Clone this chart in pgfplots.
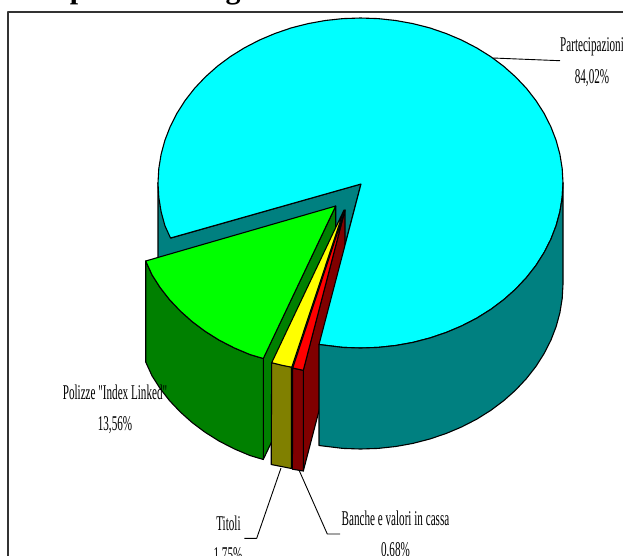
\documentclass[border=0pt]{standalone}
\usepackage{pgfplots}
\pgfplotsset{compat=1.18}
\usepackage{fontspec}
\setmainfont{Liberation Serif}
\newfontfamily\labelfont[FakeStretch=0.53]{Liberation Serif}
\definecolor{pcyan}{HTML}{00FFFF}
\definecolor{pteal}{HTML}{008080}
\definecolor{plime}{HTML}{00FF00}
\definecolor{pgreen}{HTML}{008000}
\definecolor{pyellow}{HTML}{FFFF00}
\definecolor{polive}{HTML}{808000}
\definecolor{pred}{HTML}{FF0000}
\definecolor{pmaroon}{HTML}{800000}
\definecolor{pframe}{HTML}{333333}
\newcommand{\lab}[1]{{\labelfont\fontsize{21}{22}\selectfont #1}}
\begin{document}
\begin{tikzpicture}[x=1pt,y=1pt]
\path[use as bounding box,clip] (0,0) rectangle (623,555);
\begin{axis}[
  at={(0,0)},anchor=south west,
  scale only axis,width=623pt,height=555pt,
  xmin=0,xmax=623,ymin=0,ymax=555,
  y dir=reverse,hide axis,clip=false,
  every axis plot/.append style={no markers,line join=round,line width=1.1pt},
]
% outer frame of the chart area
\addplot[draw=pframe,line width=1.9pt] coordinates {(8,600) (8,12) (660,12)};
\node[anchor=base west,inner sep=0pt] at (axis cs:8,-2)
  {\fontsize{30}{30}\selectfont\bfseries Composizione degli investimenti};

% inner wall of the large sector and the short piece of its rim on the left
\addplot[fill=pteal,draw=black] coordinates {(361,184) (171,238) (158,183) (158,262) (175,262) (338,262) (319,344)} --cycle;
% cut walls of the detached sectors
\addplot[fill=pgreen,draw=black] coordinates {(335.7,206) (335.7,307) (263.3,459.4) (263.3,358)} --cycle;
\addplot[fill=pmaroon,draw=black] coordinates {(345,210) (303.3,370) (303.3,471) (345,311)} --cycle;

% Partecipazioni: top face
\addplot[fill=pcyan,draw=black] coordinates {
  (361,184) (170.5,238) (164.9,225.7) (161.1,211.7) (158.8,197.4) (158,183)
  (158.8,168.6) (161.1,154.3) (164.9,140.3) (170.2,126.6) (177,113.2) (185.1,100.5)
  (194.6,88.3) (205.4,76.9) (217.3,66.3) (230.3,56.6) (244.3,47.9) (259.3,40.1)
  (274.9,33.5) (291.2,27.9) (308.1,23.6) (325.3,20.5) (342.9,18.6) (360.5,18)
  (378.1,18.6) (395.7,20.5) (412.9,23.6) (429.8,27.9) (446.1,33.5) (461.7,40.1)
  (476.7,47.9) (490.7,56.6) (503.7,66.3) (515.6,76.9) (526.4,88.3) (535.9,100.5)
  (544,113.2) (550.8,126.6) (556.1,140.3) (559.9,154.3) (562.2,168.6) (563,183)
  (562.2,197.4) (559.9,211.7) (556.1,225.7) (550.8,239.4) (544,252.7) (535.9,265.5)
  (526.4,277.6) (515.6,289.1) (503.7,299.7) (490.7,309.4) (476.7,318.2) (461.7,325.9)
  (446.1,332.5) (429.8,338) (412.9,342.4) (395.7,345.5) (378.1,347.4) (360.5,348)
  (342.9,347.4) (319,344.5)} --cycle;
% Partecipazioni: rim
\addplot[fill=pteal,draw=black] coordinates {
  (563,183) (562.2,197.4) (559.9,211.7) (556.1,225.7) (550.8,239.4) (544,252.7) (535.9,265.5)
  (526.4,277.6) (515.6,289.1) (503.7,299.7) (490.7,309.4) (476.7,318.2) (461.7,325.9)
  (446.1,332.5) (429.8,338) (412.9,342.4) (395.7,345.5) (378.1,347.4) (360.5,348)
  (342.9,347.4) (319,344.5)
  (319,445.5) (342.9,448.4) (360.5,449) (378.1,448.4) (395.7,446.5) (412.9,443.4)
  (429.8,439) (446.1,433.5) (461.7,426.9) (476.7,419.2) (490.7,410.4) (503.7,400.7)
  (515.6,390.1) (526.4,378.6) (535.9,366.5) (544,353.7) (550.8,340.4) (556.1,326.7)
  (559.9,312.7) (562.2,298.4) (563,284)} --cycle;

% Polizze "Index Linked": rim and top face
\addplot[fill=pgreen,draw=black] coordinates {
  (145.7,261) (152,274.8) (160.1,287.5) (169.6,299.7) (180.4,311.1) (192.3,321.7)
  (205.3,331.4) (219.3,340.2) (234.3,347.9) (249.9,354.5) (263.3,358.5)
  (263.3,459.5) (249.9,455.5) (234.3,448.9) (219.3,441.2) (205.3,432.4) (192.3,422.7)
  (180.4,412.1) (169.6,400.7) (160.1,388.5) (152,375.8) (145.7,362)} --cycle;
\addplot[fill=plime,draw=black] coordinates {
  (335.7,206) (145.7,261) (152,274.8) (160.1,287.5) (169.6,299.7) (180.4,311.1) (192.3,321.7)
  (205.3,331.4) (219.3,340.2) (234.3,347.9) (249.9,354.5) (263.3,358.5)} --cycle;

% Titoli: rim and top face
\addplot[fill=polive,draw=black] coordinates {(271.7,362.7) (291.5,367) (291.5,468.5) (271.2,464.5)} --cycle;
\addplot[fill=pyellow,draw=black] coordinates {(344,210) (271.7,362.7) (282,365.3) (291.8,367.2)} --cycle;

% Banche e valori in cassa: rim and top face
\addplot[fill=pmaroon,draw=black] coordinates {(292.7,368) (303.3,370.3) (303.3,471) (292.4,469.2)} --cycle;
\addplot[fill=pred,draw=black] coordinates {(345,210) (292.7,368) (303.3,370.3)} --cycle;

% leader lines
\addplot[draw=black,line width=0.9pt] coordinates {(493,58) (560,60.7)};
\addplot[draw=black,line width=0.9pt] coordinates {(281,468) (256.7,538.3) (244.3,538.3)};
\addplot[draw=black,line width=0.9pt] coordinates {(299.3,470.7) (327.3,534) (340,534)};

% labels
\node[anchor=base,inner sep=0pt] at (axis cs:592,51.5) {\lab{Partecipazioni}};
\node[anchor=base,inner sep=0pt] at (axis cs:592,83) {\lab{84,02\%}};
\node[anchor=base,inner sep=0pt] at (axis cs:115,399) {\lab{Polizze "Index Linked"}};
\node[anchor=base,inner sep=0pt] at (axis cs:115,430) {\lab{13,56\%}};
\node[anchor=base,inner sep=0pt] at (axis cs:228.5,530) {\lab{Titoli}};
\node[anchor=base,inner sep=0pt] at (axis cs:228,561) {\lab{1,75\%}};
\node[anchor=base,inner sep=0pt] at (axis cs:395.5,525) {\lab{Banche e valori in cassa}};
\node[anchor=base,inner sep=0pt] at (axis cs:395.5,556) {\lab{0,68\%}};
\end{axis}
\end{tikzpicture}
\end{document}
